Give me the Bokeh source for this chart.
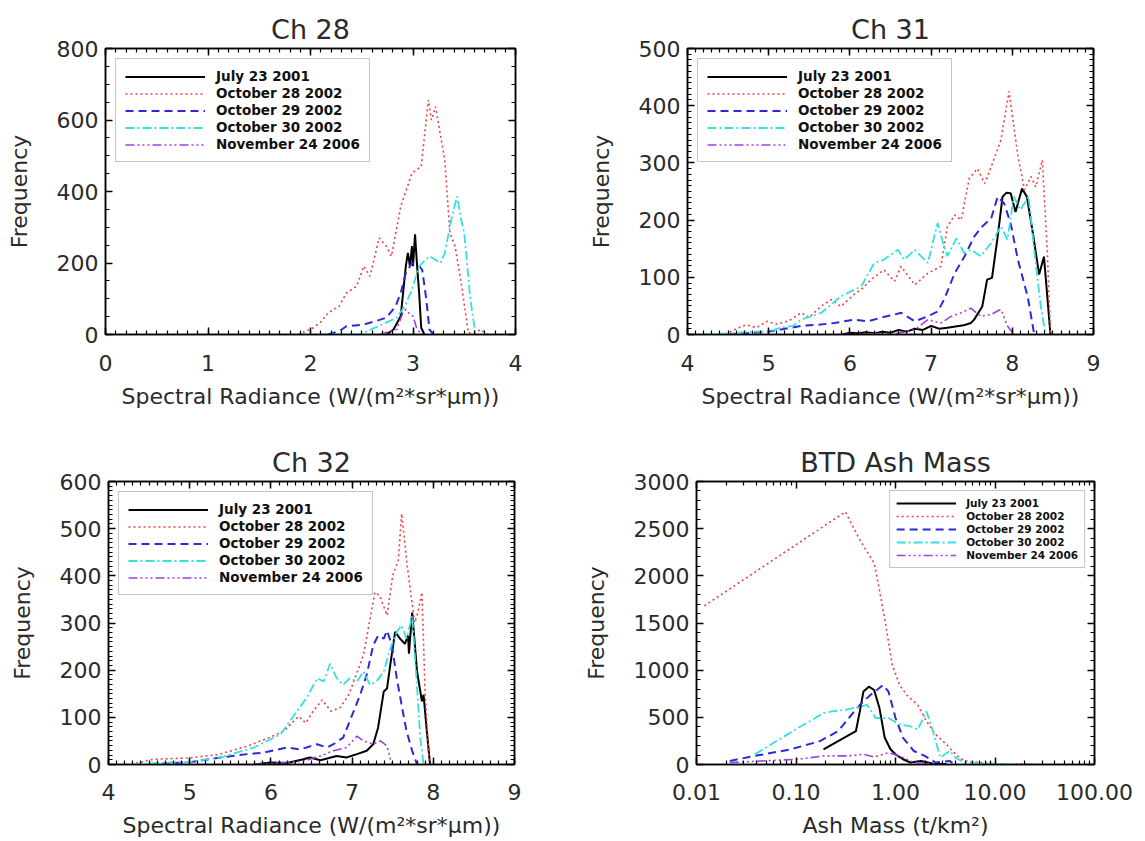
from bokeh.plotting import figure
from bokeh.models import (Range1d, LinearAxis, LogAxis, SingleIntervalTicker, FixedTicker,
                          PrintfTickFormatter, Legend, LegendItem, CustomLabelingPolicy)
from bokeh.layouts import column, row
from bokeh.embed import file_html
from bokeh.resources import INLINE

# ---------------- data ----------------
series_labels = ["July 23 2001", "October 28 2002", "October 29 2002",
                 "October 30 2002", "November 24 2006"]

# Ch 28
c28_jul_x = [2.74, 2.81, 2.88, 2.93, 2.95, 2.97, 2.99, 3.00, 3.02, 3.04, 3.06, 3.08, 3.11]
c28_jul_y = [0, 14, 51, 191, 228, 191, 247, 191, 280, 191, 116, 19, 0]
c28_o28_x = [1.88, 2.03, 2.10, 2.17, 2.28, 2.35, 2.45, 2.52, 2.58, 2.67, 2.74, 2.79, 2.88, 2.99,
             3.08, 3.15, 3.18, 3.22, 3.31, 3.36, 3.41, 3.47, 3.54, 3.60, 3.66, 3.73]
c28_o28_y = [0, 19, 35, 60, 79, 116, 135, 191, 163, 270, 247, 219, 358, 451,
             470, 656, 600, 637, 488, 284, 247, 144, 5, 3, 14, 0]
c28_o29_x = [2.17, 2.28, 2.35, 2.52, 2.63, 2.74, 2.83, 2.88, 2.93, 2.99, 3.06, 3.09, 3.13, 3.16, 3.20]
c28_o29_y = [0, 9, 23, 28, 37, 47, 79, 116, 172, 200, 191, 181, 98, 14, 0]
c28_o30_x = [1.92, 2.45, 2.52, 2.70, 2.84, 2.92, 2.99, 3.06, 3.16, 3.27, 3.31, 3.38, 3.43, 3.47, 3.50, 3.56, 3.61]
c28_o30_y = [0, 0, 5, 28, 47, 79, 126, 191, 219, 200, 228, 330, 386, 321, 284, 98, 0]
c28_n24_x = [2.67, 2.84, 2.90, 2.93, 2.97, 3.00, 3.04, 3.09]
c28_n24_y = [0, 14, 60, 70, 56, 51, 14, 0]

# Ch 31
c31_jul_x = [5.9, 6.0, 6.1, 6.2, 6.3, 6.4, 6.5, 6.6, 6.7, 6.8, 6.9, 7.0, 7.1, 7.2, 7.3, 7.4, 7.49,
             7.53, 7.63, 7.69, 7.75, 7.82, 7.88, 7.93, 7.98, 8.04, 8.08, 8.12, 8.18, 8.26, 8.33, 8.39, 8.47]
c31_jul_y = [0, 3, 2, 4, 2, 5, 3, 8, 5, 10, 8, 15, 10, 12, 14, 16, 20,
             26, 49, 96, 99, 171, 241, 248, 247, 214, 235, 255, 241, 171, 105, 136, 0]
c31_o28_x = [4.40, 4.49, 4.6, 4.72, 4.85, 4.98, 5.1, 5.25, 5.4, 5.5, 5.65, 5.77, 5.89, 6.05, 6.15,
             6.26, 6.42, 6.55, 6.63, 6.80, 6.96, 7.12, 7.20, 7.29, 7.37, 7.47, 7.57, 7.66, 7.74,
             7.86, 7.96, 8.07, 8.15, 8.23, 8.29, 8.37, 8.43, 8.47]
c31_o28_y = [0, 2, 10, 17, 12, 23, 18, 24, 38, 30, 50, 61, 49, 70, 80,
             96, 113, 93, 119, 87, 107, 119, 188, 209, 200, 273, 290, 264, 293,
             340, 425, 311, 253, 276, 258, 305, 148, 3]
c31_o29_x = [4.5, 4.8, 5.0, 5.2, 5.4, 5.6, 5.81, 6.05, 6.22, 6.4, 6.55, 6.63, 6.80, 6.96, 7.08,
             7.16, 7.29, 7.41, 7.53, 7.63, 7.74, 7.82, 7.90, 7.98, 8.07, 8.19, 8.27]
c31_o29_y = [0, 3, 5, 10, 15, 17, 20, 26, 23, 30, 35, 38, 23, 32, 40,
             61, 107, 136, 171, 189, 203, 241, 229, 194, 130, 66, 0]
c31_o30_x = [4.2, 4.5, 4.8, 5.0, 5.15, 5.3, 5.4, 5.65, 5.89, 6.14, 6.30, 6.42, 6.59, 6.67, 6.80,
             6.96, 7.08, 7.16, 7.20, 7.31, 7.41, 7.49, 7.61, 7.74, 7.86, 7.94, 8.02, 8.10, 8.20,
             8.27, 8.35, 8.41]
c31_o30_y = [0, 2, 5, 5, 12, 15, 26, 38, 67, 84, 125, 131, 148, 131, 148,
             125, 195, 154, 137, 168, 142, 148, 137, 160, 189, 166, 241, 218, 241,
             148, 50, 0]
c31_n24_x = [5.9, 6.6, 6.8, 6.96, 7.12, 7.25, 7.37, 7.49, 7.61, 7.74, 7.86, 7.94, 8.02]
c31_n24_y = [0, 2, 8, 26, 20, 32, 38, 46, 32, 35, 44, 15, 0]

# Ch 32
c32_jul_x = [5.79, 6.0, 6.2, 6.40, 6.48, 6.61, 6.81, 6.93, 7.06, 7.18, 7.26, 7.32, 7.39, 7.43,
             7.47, 7.53, 7.59, 7.65, 7.69, 7.70, 7.74, 7.80, 7.86, 7.88, 7.92, 7.96]
c32_jul_y = [0, 4, 3, 11, 15, 9, 18, 15, 22, 29, 43, 78, 155, 161,
             211, 281, 267, 256, 273, 235, 322, 197, 134, 148, 71, 0]
c32_o28_x = [4.28, 4.55, 5.0, 5.35, 5.71, 5.98, 6.16, 6.34, 6.43, 6.52, 6.63, 6.74, 6.85, 6.96,
             7.14, 7.28, 7.34, 7.43, 7.50, 7.57, 7.61, 7.68, 7.77, 7.81, 7.86, 7.90, 7.95]
c32_o28_y = [0, 11, 14, 21, 39, 57, 71, 102, 88, 113, 137, 113, 120, 148,
             232, 365, 358, 316, 400, 434, 532, 420, 301, 322, 365, 148, 7]
c32_o29_x = [4.5, 5.0, 5.38, 5.71, 5.91, 6.20, 6.36, 6.57, 6.69, 6.77, 6.89, 7.02, 7.10, 7.18,
             7.26, 7.32, 7.39, 7.43, 7.49, 7.55, 7.61, 7.67, 7.74, 7.80]
c32_o29_y = [0, 5, 15, 22, 25, 36, 32, 43, 36, 43, 57, 113, 148, 190,
             253, 273, 267, 284, 253, 183, 126, 71, 29, 0]
c32_o30_x = [4.3, 4.8, 5.0, 5.38, 5.79, 6.12, 6.32, 6.44, 6.57, 6.65, 6.73, 6.81, 6.89, 6.97,
             7.06, 7.14, 7.22, 7.30, 7.39, 7.47, 7.55, 7.61, 7.67, 7.74, 7.80, 7.84, 7.88]
c32_o30_y = [0, 5, 5, 15, 36, 64, 113, 141, 183, 176, 214, 183, 169, 183,
             176, 197, 169, 176, 197, 246, 281, 295, 267, 315, 162, 57, 0]
c32_n24_x = [5.79, 6.40, 6.61, 6.77, 6.93, 7.06, 7.14, 7.26, 7.35, 7.43, 7.49]
c32_n24_y = [0, 7, 18, 29, 36, 60, 50, 43, 50, 39, 0]

# BTD Ash Mass
ash_jul_x = [0.189, 0.40, 0.438, 0.476, 0.54, 0.61, 0.69, 0.78, 0.89, 1.0, 1.19, 1.41, 1.8, 2.53, 3.25]
ash_jul_y = [161, 353, 563, 773, 825, 790, 598, 283, 161, 108, 56, 21, 38, 4, 4]
ash_o28_x = [0.012, 0.313, 0.438, 0.61, 0.66, 0.78, 0.93, 1.10, 1.30, 1.67, 2.05, 2.53, 3.25,
             4.18, 4.93, 8.8, 20.5, 28.5]
ash_o28_y = [1682, 2678, 2381, 2136, 1960, 1541, 1052, 842, 737, 632, 458, 318, 213,
             91, 38, 10, 4, 0]
ash_o29_x = [0.0216, 0.0386, 0.089, 0.174, 0.265, 0.34, 0.438, 0.56, 0.75, 0.85, 1.0, 1.19,
             1.53, 1.97, 2.53, 3.5, 3.9]
ash_o29_y = [38, 91, 161, 248, 353, 493, 632, 737, 842, 773, 493, 283, 143, 91, 21, 38, 4]
ash_o30_x = [0.0386, 0.0638, 0.105, 0.189, 0.23, 0.313, 0.52, 0.63, 0.85, 1.10, 1.41, 1.67,
             2.05, 2.38, 2.82, 3.5, 4.0, 4.93, 13.4, 15.9]
ash_o30_y = [108, 248, 388, 545, 563, 580, 632, 493, 493, 423, 406, 371,
             563, 353, 73, 143, 73, 21, 4, 0]
ash_n24_x = [0.0216, 0.105, 0.189, 0.34, 0.476, 0.61, 0.85, 1.10, 1.53, 2.53]
ash_n24_y = [21, 56, 91, 91, 108, 80, 126, 91, 21, 4]

log_major = [0.01, 0.1, 1, 10, 100]

# ---------------- styling ----------------
FONT = "DejaVu Sans"
TXT = "#2a2a2a"
styles = [
    dict(line_color="black", line_width=2.0, line_dash="solid"),
    dict(line_color="#ec4242", line_width=1.6, line_dash="2 3"),
    dict(line_color="#2a2ad8", line_width=2.0, line_dash="8 5"),
    dict(line_color="#34e0e0", line_width=1.8, line_dash="9 3 2 3"),
    dict(line_color="#a040e0", line_width=1.6, line_dash="9 3 2 3 2 3 2 3"),
]

HIDE_ALL = "for (const i of indices) { indices.unset(i) }\nreturn indices"


def style_axis(ax, show_labels, standoff=8):
    ax.axis_line_color = "black"
    ax.axis_line_width = 1.5
    ax.major_tick_line_color = "black"
    ax.major_tick_line_width = 1.5
    ax.minor_tick_line_color = "black"
    ax.minor_tick_line_width = 1.2
    ax.major_tick_in = 7
    ax.major_tick_out = 0
    ax.minor_tick_in = 4
    ax.minor_tick_out = 0
    if show_labels:
        ax.major_label_text_font = FONT
        ax.major_label_text_font_size = "22px"
        ax.major_label_text_color = TXT
        ax.major_label_standoff = standoff
        ax.axis_label_text_font = FONT
        ax.axis_label_text_font_size = "22px"
        ax.axis_label_text_font_style = "normal"
        ax.axis_label_text_color = TXT
    else:
        ax.major_label_text_font_size = "0px"
        ax.major_label_standoff = 0
        ax.major_label_policy = CustomLabelingPolicy(code=HIDE_ALL)


def make_panel(title, xs, ys, xr, yr, w, h, borders, xtick, ytick, xlabel,
               legend_pos, legend_small=False, logx=False, xstandoff=20, ystandoff=7,
               ylabel_standoff=22, xlabel_standoff=10):
    bl, br, bt, bb = borders
    p = figure(width=w, height=h, output_backend="svg", toolbar_location=None,
               x_range=Range1d(*xr), y_range=Range1d(*yr),
               x_axis_type="log" if logx else "linear",
               min_border_left=bl, min_border_right=br, min_border_top=bt, min_border_bottom=bb,
               title=title)
    p.title.text_font = FONT
    p.title.text_font_size = "27px"
    p.title.text_font_style = "normal"
    p.title.text_color = TXT
    p.title.align = "center"
    p.title.standoff = 8
    p.grid.visible = False
    p.outline_line_color = "black"
    p.outline_line_width = 1.5
    p.background_fill_color = "white"
    p.border_fill_color = "white"

    # mirrored axes (ticks only)
    top = LogAxis() if logx else LinearAxis()
    right = LinearAxis()
    p.add_layout(top, "above")
    p.add_layout(right, "right")

    for ax in p.xaxis:
        ax.ticker = xtick()
    for ax in p.yaxis:
        ax.ticker = ytick()
    if logx:
        for ax in p.xaxis:
            ax.formatter = PrintfTickFormatter(format="%.2f")

    style_axis(p.below[0], True, xstandoff)
    style_axis(p.left[0], True, ystandoff)
    style_axis(top, False)
    style_axis(right, False)
    p.below[0].axis_label = xlabel
    p.below[0].axis_label_standoff = xlabel_standoff
    p.left[0].axis_label = "Frequency"
    p.left[0].axis_label_standoff = ylabel_standoff

    items = []
    for x, y, lab, st in zip(xs, ys, series_labels, styles):
        r = p.line(x, y, **st)
        items.append(LegendItem(label=lab, renderers=[r]))
    leg = Legend(items=items, location=legend_pos)
    leg.border_line_color = "#8a8a8a"
    leg.border_line_width = 1.2
    leg.background_fill_color = "white"
    leg.background_fill_alpha = 1.0
    leg.label_text_font = FONT
    leg.label_text_font_style = "bold"
    leg.label_text_color = "#111111"
    if legend_small:
        leg.label_text_font_size = "10.5px"
        leg.glyph_width = 60
        leg.glyph_height = 10
        leg.label_height = 10
        leg.spacing = 1
        leg.padding = 6
        leg.label_standoff = 10
        leg.margin = 9
    else:
        leg.label_text_font_size = "13.5px"
        leg.glyph_width = 80
        leg.glyph_height = 13
        leg.label_height = 13
        leg.spacing = 1
        leg.padding = 9
        leg.label_standoff = 11
        leg.margin = 10
    p.add_layout(leg)
    return p


XLAB = "Spectral Radiance (W/(m²*sr*µm))"

p1 = make_panel("Ch 28",
                [c28_jul_x, c28_o28_x, c28_o29_x, c28_o30_x, c28_n24_x],
                [c28_jul_y, c28_o28_y, c28_o29_y, c28_o30_y, c28_n24_y],
                (0, 4), (0, 800), 580, 436, (105, 65, 48, 102),
                lambda: SingleIntervalTicker(interval=1, num_minor_ticks=10),
                lambda: SingleIntervalTicker(interval=200, num_minor_ticks=4),
                XLAB, "top_left")

p2 = make_panel("Ch 31",
                [c31_jul_x, c31_o28_x, c31_o29_x, c31_o30_x, c31_n24_x],
                [c31_jul_y, c31_o28_y, c31_o29_y, c31_o30_y, c31_n24_y],
                (4, 9), (0, 500), 565, 436, (107, 52, 48, 102),
                lambda: SingleIntervalTicker(interval=1, num_minor_ticks=10),
                lambda: SingleIntervalTicker(interval=100, num_minor_ticks=10),
                XLAB, "top_left")

p3 = make_panel("Ch 32",
                [c32_jul_x, c32_o28_x, c32_o29_x, c32_o30_x, c32_n24_x],
                [c32_jul_y, c32_o28_y, c32_o29_y, c32_o30_y, c32_n24_y],
                (4, 9), (0, 600), 580, 404, (108, 66, 45, 73),
                lambda: SingleIntervalTicker(interval=1, num_minor_ticks=10),
                lambda: SingleIntervalTicker(interval=100, num_minor_ticks=10),
                XLAB, "top_left", xstandoff=19)

log_minor = [m * d for d in (0.01, 0.1, 1, 10) for m in range(2, 10)]
p4 = make_panel("BTD Ash Mass",
                [ash_jul_x, ash_o28_x, ash_o29_x, ash_o30_x, ash_n24_x],
                [ash_jul_y, ash_o28_y, ash_o29_y, ash_o30_y, ash_n24_y],
                (0.01, 100), (0, 3000), 565, 404, (113, 51, 45, 73),
                lambda: FixedTicker(ticks=log_major, minor_ticks=log_minor),
                lambda: SingleIntervalTicker(interval=500, num_minor_ticks=5),
                "Ash Mass (t/km²)", "top_right", legend_small=True, logx=True, xstandoff=19)

layout = column(row(p1, p2), row(p3, p4))
open("out.html", "w").write(file_html(layout, INLINE))
